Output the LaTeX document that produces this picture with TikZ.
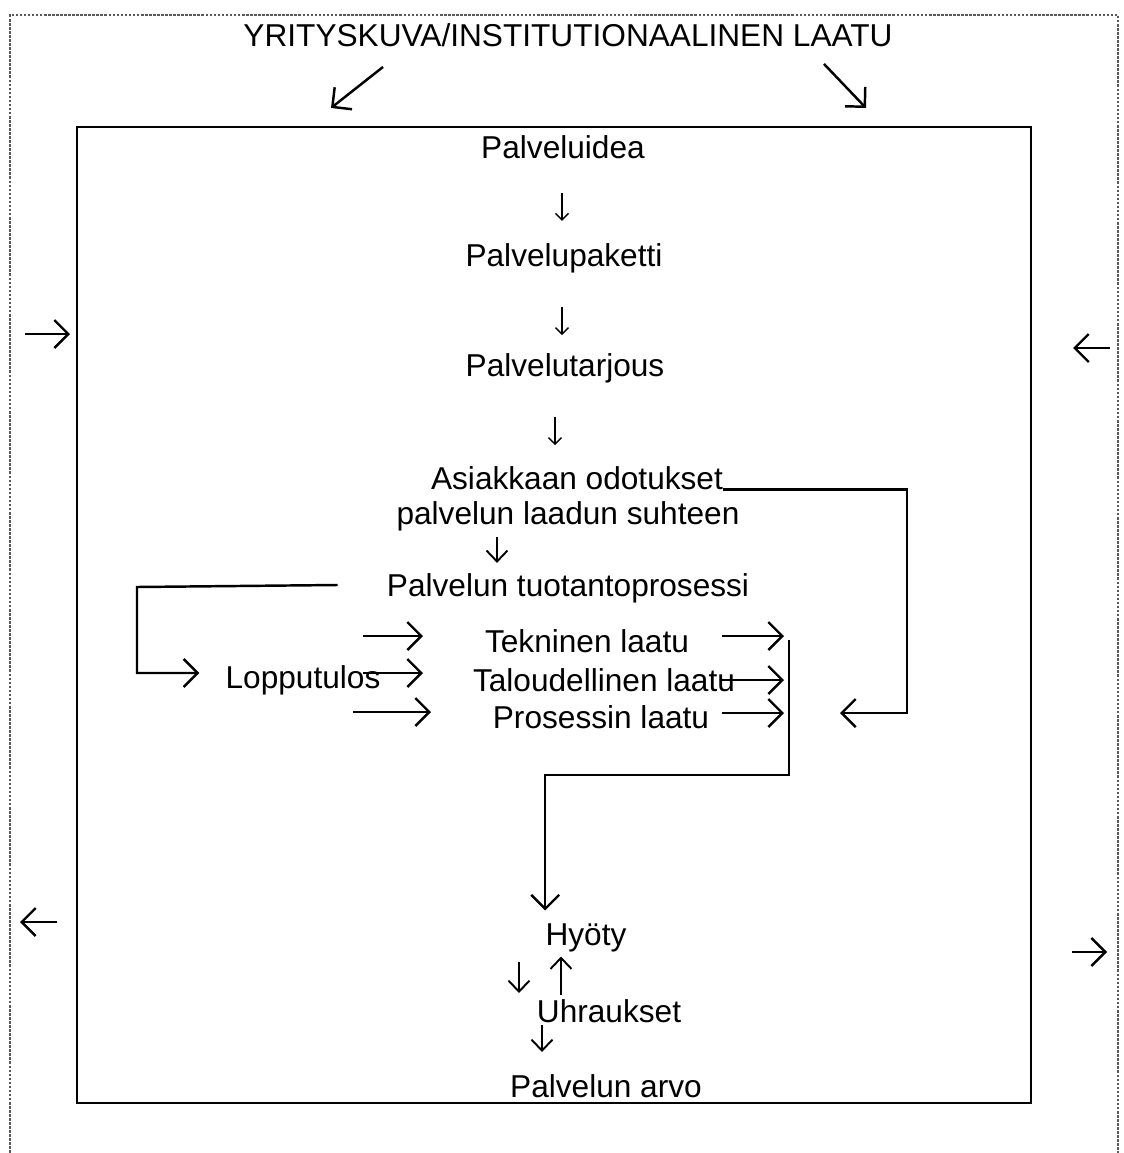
\documentclass[tikz,border=0pt]{standalone}
\usepackage{fontspec}
\setmainfont{Liberation Sans}
\usetikzlibrary{arrows.meta}

\begin{document}
\begin{tikzpicture}[x=0.02cm, y=-0.02cm,
	txt/.style={inner sep=0pt, font=\fontsize{18}{22}\selectfont},
	ln/.style={line width=1.4pt},
	arr/.style={ln, -{Straight Barb[length=2.8mm, width=5.6mm, line width=1.4pt]}},
	midarr/.style={line width=1.1pt, -{Straight Barb[length=2.2mm, width=4.2mm, line width=1.1pt]}},
	smallarr/.style={line width=0.8pt, -{Straight Barb[length=1.3mm, width=2.6mm, line width=0.8pt]}},
	kehys/.style={black!65, line width=0.7pt, dash pattern=on 1.5pt off 0.8pt}]
					\useasboundingbox (0,0) rectangle (1123,1153);
					% kehykset
					\draw[kehys] (10,1153) -- (10,15) -- (1118,15) -- (1118,1153);
					\draw[line width=1.4pt] (77,127) rectangle (1031,1103);
					% tekstit
					\node[txt] (otsikko) at (568,35) {YRITYSKUVA/INSTITUTIONAALINEN LAATU};
					\node[txt] (idea) at (563,147) {Palveluidea};
					\node[txt] (paketti) at (564,258) {Palvelupaketti};
					\node[txt] (tarjous) at (565,368) {Palvelutarjous};
					\node[txt] (odot1) at (577,478) {Asiakkaan odotukset};
					\node[txt] (odot2) at (568,516) {palvelun laadun suhteen};
					\node[txt] (prosessi) at (568,588) {Palvelun tuotantoprosessi};
					\node[txt] (loppu) at (303,680) {Lopputulos};
					\node[txt] (tekn) at (587,641) {Tekninen laatu};
					\node[txt] (talous) at (604,680) {Taloudellinen laatu};
					\node[txt] (proslaatu) at (601,717) {Prosessin laatu};
					\node[txt] (hyoty) at (586,938) {Hyöty};
					\node[txt] (uhr) at (609,1011) {Uhraukset};
					\node[txt] (arvo) at (606,1086) {Palvelun arvo};
					% vapaat päät
					\coordinate (vy) at (331,108);
					\coordinate (oy) at (866,108);
					\coordinate (va1) at (25,334);
					\coordinate (oa1) at (1110,348);
					\coordinate (va2) at (57,922);
					\coordinate (oa2) at (1072,952);
					\coordinate (kokoaja) at (789,640);
					% nuolet
					\draw[arr] ([shift={(-185,20)}]otsikko.south) -- (vy);
					\draw[arr] ([shift={(256,17)}]otsikko.south) -- (oy);
					\draw[arr] (va1) -- ++(45,0);
					\draw[arr] (oa1) -- ++(-37,0);
					\draw[arr] (va2) -- ++(-37,0);
					\draw[arr] (oa2) -- ++(35,0);
					\draw[smallarr] ([shift={(-1,34)}]idea.south) -- ([shift={(-1,62)}]idea.south);
					\draw[smallarr] ([shift={(-2,34)}]paketti.south) -- ([shift={(-2,62)}]paketti.south);
					\draw[smallarr] ([shift={(-10,34)}]tarjous.south) -- ([shift={(-10,62)}]tarjous.south);
					\draw[midarr] ([shift={(-71,6)}]odot2.south) -- ([shift={(-71,-10)}]prosessi.north);
					\draw[arr] ([shift={(-49,-3)}]prosessi.west) -- (137,587) |- ([shift={(-26,-7)}]loppu.west);
					\draw[arr] (363,636) -- (423,636);
					\draw[arr] (363,673) -- (423,673);
					\draw[arr] (353,712) -- (431,712);
					\draw[arr] (722,636) -- (784,636);
					\draw[arr] (722,680) -- (784,680);
					\draw[arr] (722,713) -- (784,713);
					\draw[arr] (odot1.base east) -| (907,713) -- (840,713);
					\draw[arr] (kokoaja) -- ++(0,135) -| ([shift={(0,-13)}]hyoty.north west);
					\draw[midarr] (519,962) -- (519,993);
					\draw[midarr] ([shift={(-48,-4)}]uhr.north) -- ([shift={(-25,4)}]hyoty.south);
					\draw[midarr] ([shift={(-67,2)}]uhr.south) -- (542,1052);
				\end{tikzpicture}
\end{document}
